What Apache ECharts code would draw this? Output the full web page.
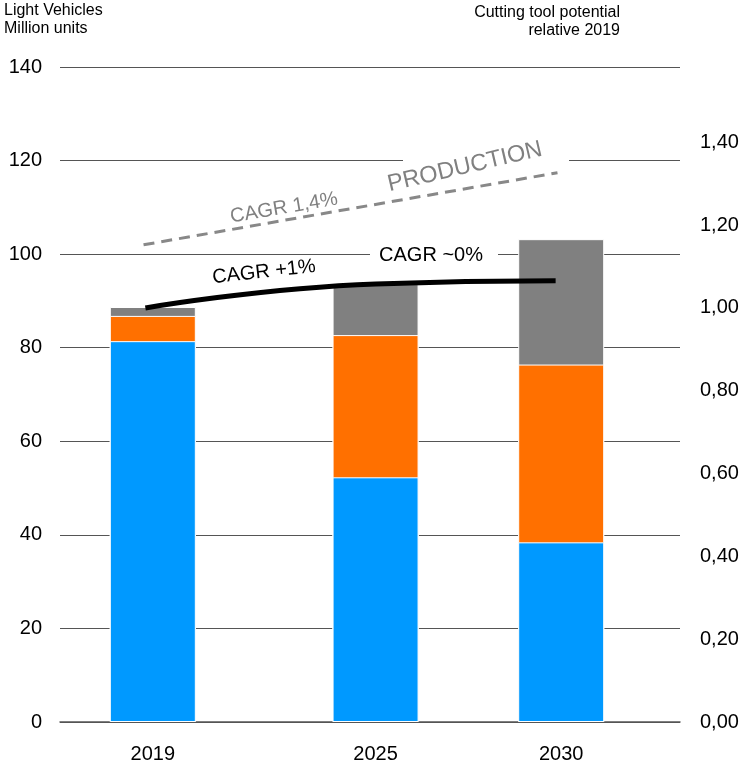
<!DOCTYPE html>
<html>
<head>
<meta charset="utf-8">
<script src="https://cdn.jsdelivr.net/npm/echarts@6/dist/echarts.min.js"></script>
<style>
  html, body { margin: 0; padding: 0; background: #fff; }
  #main { width: 744px; height: 769px; }
</style>
</head>
<body>
<div id="main"></div>
<script>
// bar data (million units), stacked bottom -> top
var years = [2019, 2025, 2030];
var lowerSegment = [81.4, 52.3, 38.4];
var middleSegment = [5.4, 30.4, 38.0];
var upperSegment = [1.9, 10.9, 26.8];

// cutting tool potential, relative to 2019 (right axis)
var potentialYears = [2018.8, 2025, 2029.85];
var potentialValues = [1.0, 1.058, 1.066];

// production trend (left axis), dashed
var productionYears = [2018.75, 2029.9];
var productionValues = [102, 117.4];

var labelYears = [2019, 2025, 2030];

function pairs(xs, ys) {
  return xs.map(function (x, i) { return [x, ys[i]]; });
}

// the x axis is a value axis (years are not evenly spaced), so the stack
// is built here: each segment is drawn from 0 to its running total,
// tallest first, lower segments painted over it
var stackTop1 = lowerSegment;
var stackTop2 = lowerSegment.map(function (v, i) { return v + middleSegment[i]; });
var stackTop3 = stackTop2.map(function (v, i) { return v + upperSegment[i]; });

var font = "'Liberation Sans', Arial, sans-serif";
var myChart = echarts.init(document.getElementById('main'));

function barSeries(name, values, color, z) {
  return {
    type: 'bar',
    name: name,
    barWidth: 86,
    barGap: '-100%',
    yAxisIndex: 0,
    z: z,
    data: pairs(years, values),
    itemStyle: { color: color, borderColor: '#fff', borderWidth: 1 },
    emphasis: { disabled: true }
  };
}

option = {
  backgroundColor: '#fff',
  animation: false,
  textStyle: { fontFamily: font },
  grid: { left: 60, right: 64, top: 67, bottom: 47 },

  xAxis: {
    type: 'value',
    min: 2016.5,
    max: 2033.2,
    interval: 0.5,
    splitLine: { show: false },
    axisTick: { show: false },
    axisLine: { show: true, lineStyle: { color: '#555', width: 1.5 } },
    axisLabel: {
      fontSize: 20,
      color: '#000',
      margin: 22,
      showMinLabel: false,
      showMaxLabel: false,
      formatter: function (v) {
        return labelYears.indexOf(v) >= 0 ? String(v) : '';
      }
    }
  },

  yAxis: [{
    type: 'value',
    min: 0,
    max: 140,
    interval: 20,
    axisLine: { show: false },
    axisTick: { show: false },
    splitLine: { lineStyle: { color: '#555', width: 1 } },
    axisLabel: { fontSize: 20, color: '#000', margin: 18 }
  }, {
    type: 'value',
    position: 'right',
    min: 0,
    max: 1.582,
    interval: 0.2,
    axisLine: { show: false },
    axisTick: { show: false },
    splitLine: { show: false },
    axisLabel: {
      fontSize: 20,
      color: '#000',
      margin: 20,
      showMaxLabel: false,
      formatter: function (v) { return v.toFixed(2).replace('.', ','); }
    }
  }],

  graphic: [
    // header texts
    { type: 'text', left: 4, top: 2, z: 10,
      style: { text: 'Light Vehicles\nMillion units', font: '16px ' + font, fill: '#000', lineHeight: 18 } },
    { type: 'text', right: 124, top: 4, z: 10,
      style: { text: 'Cutting tool potential\nrelative 2019', font: '16px ' + font, fill: '#000',
               textAlign: 'right', lineHeight: 18 } },
    // white boxes behind annotations
    { type: 'rect', z: 1, shape: { x: 403, y: 146, width: 166, height: 26 }, style: { fill: '#fff' } },
    { type: 'rect', z: 1, shape: { x: 370, y: 240, width: 128, height: 26 }, style: { fill: '#fff' } },
    // annotations
    { type: 'text', x: 284, y: 208, rotation: 0.168, z: 10,
      style: { text: 'CAGR 1,4%', font: '20px ' + font, fill: '#808080',
               textAlign: 'center', textVerticalAlign: 'middle' } },
    { type: 'text', x: 465, y: 167, rotation: 0.23, z: 10,
      style: { text: 'PRODUCTION', font: '23.5px ' + font, fill: '#808080',
               textAlign: 'center', textVerticalAlign: 'middle' } },
    { type: 'text', x: 264, y: 272, rotation: 0.11, z: 10,
      style: { text: 'CAGR +1%', font: '20px ' + font, fill: '#000',
               textAlign: 'center', textVerticalAlign: 'middle' } },
    { type: 'text', x: 431, y: 255, z: 10,
      style: { text: 'CAGR ~0%', font: '20px ' + font, fill: '#000',
               textAlign: 'center', textVerticalAlign: 'middle' } }
  ],

  series: [
    barSeries('upper', stackTop3, '#808080', 2),
    barSeries('middle', stackTop2, '#ff7000', 2),
    barSeries('lower', stackTop1, '#0099ff', 2),
    {
      type: 'line',
      name: 'production',
      yAxisIndex: 0,
      z: 3,
      data: pairs(productionYears, productionValues),
      symbol: 'none',
      lineStyle: { color: '#888', width: 3, type: [11, 7] }
    },
    {
      type: 'line',
      name: 'potential',
      yAxisIndex: 1,
      z: 4,
      smooth: 0.5,
      data: pairs(potentialYears, potentialValues),
      symbol: 'none',
      lineStyle: { color: '#000', width: 5 }
    }
  ]
};

myChart.setOption(option);
</script>
</body>
</html>
